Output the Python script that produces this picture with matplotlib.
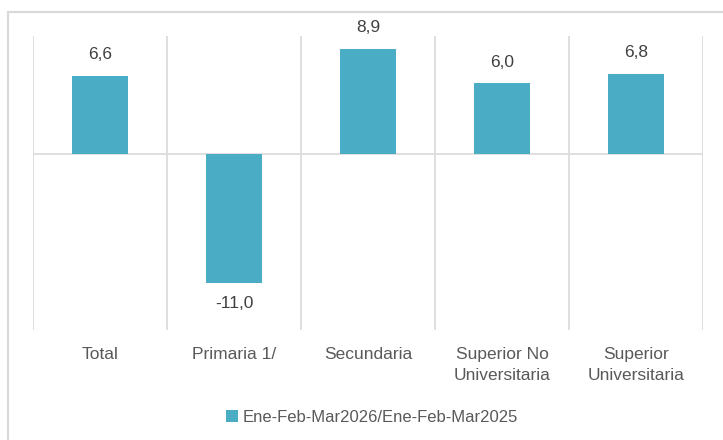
import matplotlib

matplotlib.use("Agg")

import matplotlib.pyplot as plt
from matplotlib.patches import Rectangle

categorias = ["Total", "Primaria 1/", "Secundaria", "Superior No\nUniversitaria", "Superior\nUniversitaria"]
variacion = [6.6, -11.0, 8.9, 6.0, 6.8]
serie_nombre = "Ene-Feb-Mar2026/Ene-Feb-Mar2025"

COLOR_BARRA = "#4BACC6"
COLOR_LINEA = "#d9d9d9"

plt.rcParams["font.family"] = ["Liberation Sans", "DejaVu Sans"]

fig = plt.figure(figsize=(7.23, 4.40), dpi=100)
ax = fig.add_axes([33 / 723, 1 - 330 / 440, 670 / 723, 294 / 440])

x = list(range(len(categorias)))
barras = ax.bar(x, variacion, width=0.42, color=COLOR_BARRA, label=serie_nombre, zorder=3)

ax.set_xlim(-0.5, len(categorias) - 0.5)
ax.set_ylim(-15, 10)

# separadores verticales entre categorias
ax.vlines([i - 0.5 for i in range(len(categorias) + 1)], -15, 10, color=COLOR_LINEA, linewidth=1.2, zorder=1)
ax.axhline(0, color=COLOR_LINEA, linewidth=1.2, zorder=2)

for rect, v in zip(barras, variacion):
    offset = 21 if v >= 0 else -21
    ax.annotate(
        f"{v:.1f}".replace(".", ","),
        (rect.get_x() + rect.get_width() / 2, v),
        xytext=(0, offset),
        textcoords="offset pixels",
        ha="center",
        va="center",
        fontsize=12.5,
        color="#404040",
    )

for spine in ax.spines.values():
    spine.set_visible(False)
ax.set_yticks([])
ax.set_xticks(x)
ax.set_xticklabels(categorias, fontsize=12.5, color="#595959", linespacing=1.45)
ax.tick_params(axis="x", length=0, pad=12.5)

fig.legend(
    handles=[barras],
    labels=[serie_nombre],
    loc="center",
    bbox_to_anchor=(372 / 723, 1 - 417 / 440),
    frameon=False,
    fontsize=12,
    labelcolor="#595959",
    handlelength=0.7,
    handleheight=0.7,
    handletextpad=0.3,
)

fig.patches.append(
    Rectangle((8 / 723, -0.1), 1.1, 1 - 12 / 440 + 0.1, transform=fig.transFigure,
              fill=False, edgecolor="#d9d9d9", linewidth=1.5)
)

fig.savefig("out.png", dpi=100)
